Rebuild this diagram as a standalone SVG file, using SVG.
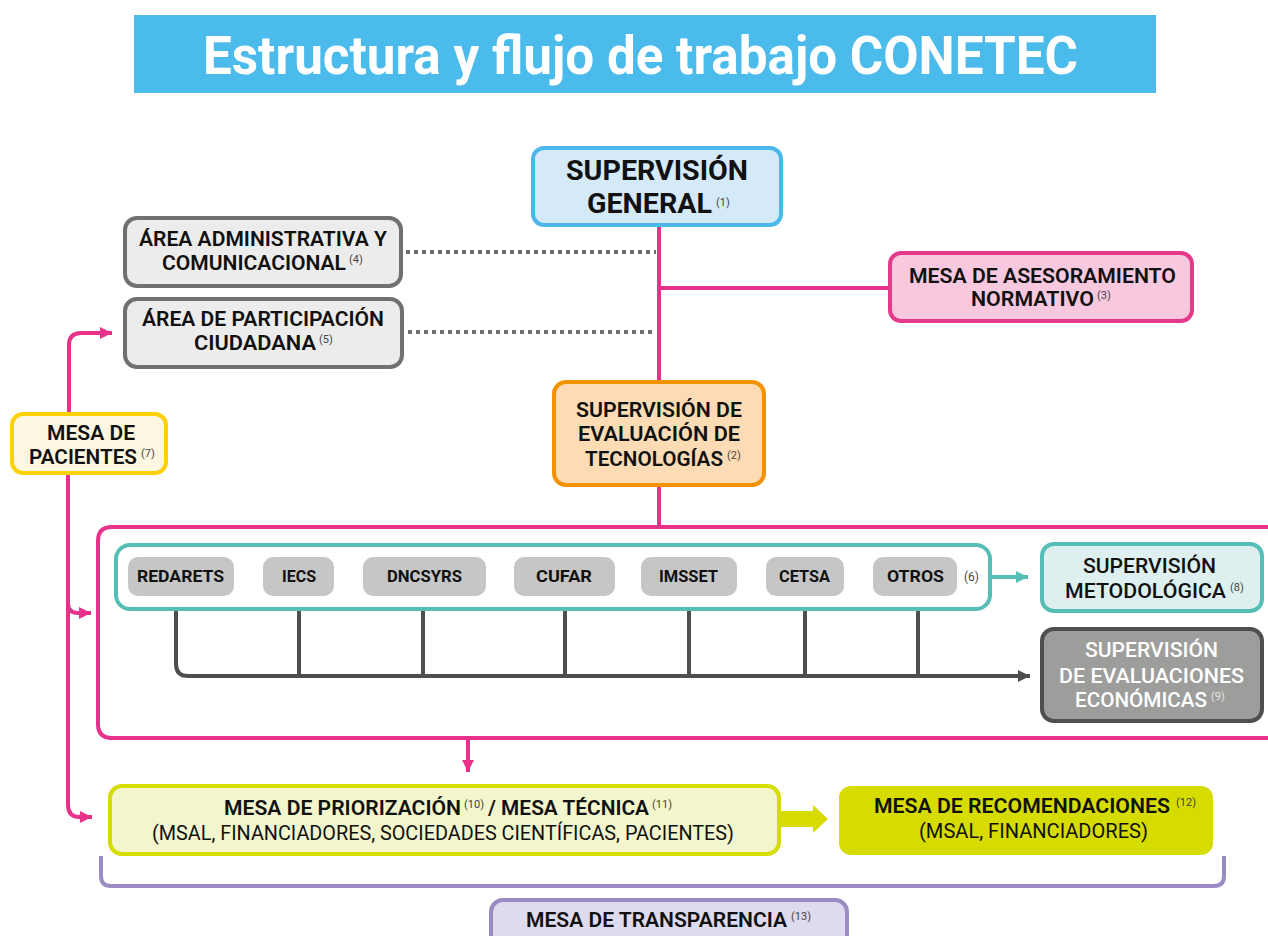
<svg xmlns="http://www.w3.org/2000/svg" width="1268" height="936" viewBox="0 0 1268 936">
<style>
text{font-family:Roboto,"Noto Sans","Liberation Sans",sans-serif;fill:#111}
.t{font-size:54px;font-weight:700;fill:#fff}
.h{font-size:27px;font-weight:700}
.m{font-size:21px;font-weight:600}
.n{font-size:21px;font-weight:500}
.p{font-size:16px;font-weight:700}
.rg{font-size:21px;font-weight:400}
.s{font-size:11px;font-weight:400;fill:#444}
.w{fill:#fff}
.ws{fill:#e6e6e6}
.pink{fill:none;stroke:#e8318a;stroke-width:4}
.dot{fill:none;stroke:#6d6d6d;stroke-width:4;stroke-dasharray:4 4}
.dk{fill:none;stroke:#4e4e4e;stroke-width:4}
</style>
<defs>
<marker id="ap" markerUnits="userSpaceOnUse" markerWidth="14" markerHeight="14" refX="12" refY="6" orient="auto"><path d="M0,0 L12,6 L0,12 z" fill="#e8318a"/></marker>
<marker id="at" markerUnits="userSpaceOnUse" markerWidth="14" markerHeight="14" refX="12" refY="6" orient="auto"><path d="M0,0 L12,6 L0,12 z" fill="#56bdb7"/></marker>
<marker id="ad" markerUnits="userSpaceOnUse" markerWidth="14" markerHeight="14" refX="12" refY="6" orient="auto"><path d="M0,0 L12,6 L0,12 z" fill="#4e4e4e"/></marker>
</defs>

<g id="title">
<rect x="134" y="15" width="1022" height="78" fill="#4bbbeb"/>
<text class="t" x="203" y="74" textLength="875" lengthAdjust="spacingAndGlyphs">Estructura y flujo de trabajo CONETEC</text>
</g>

<g id="connectors">
<path class="pink" d="M659 226 V382 M659 288 H890 M659 486 V527"/>
<path class="dot" d="M406 252 H656 M408 332 H656"/>
<path class="pink" d="M69 413 V345 Q69 333 81 333 H112" marker-end="url(#ap)"/>
<path class="pink" d="M68 474 V805 Q68 817 80 817 H92" marker-end="url(#ap)"/>
<path class="pink" d="M68 603 Q68 613 78 613 H91" marker-end="url(#ap)"/>
<path class="pink" d="M1272 527 H112 Q98 527 98 541 V724 Q98 738 112 738 H1272"/>
<path class="pink" d="M468 738 V772" marker-end="url(#ap)"/>
<path d="M991 577 H1028" fill="none" stroke="#56bdb7" stroke-width="4" marker-end="url(#at)"/>
<path class="dk" d="M176 596 V664 Q176 676 188 676 H1030" marker-end="url(#ad)"/>
<path class="dk" d="M299 596 V676 M423 596 V676 M565 596 V676 M689 596 V676 M805 596 V676 M918 596 V676"/>
<polygon points="780,811 813,811 813,805 828,819 813,833 813,827 780,827" fill="#d7dc00"/>
<path d="M101 856 V876 Q101 886 111 886 H1214 Q1224 886 1224 876 V856" fill="none" stroke="#9b8bc3" stroke-width="4"/>
</g>

<g id="supervision-general">
<rect x="533" y="148" width="248" height="77" rx="11" fill="#d5eaf8" stroke="#4bb8ea" stroke-width="4"/>
<text class="h" x="566" y="180" textLength="182" lengthAdjust="spacingAndGlyphs">SUPERVISIÓN</text>
<text class="h" x="587" y="213" textLength="125" lengthAdjust="spacingAndGlyphs">GENERAL</text>
<text class="s" x="716" y="206">(1)</text>
</g>

<g id="area-administrativa">
<rect x="125" y="218" width="276" height="68" rx="12" fill="#ececec" stroke="#707070" stroke-width="4"/>
<text class="m" x="139" y="246" textLength="248" lengthAdjust="spacingAndGlyphs">ÁREA ADMINISTRATIVA Y</text>
<text class="m" x="162" y="270" textLength="184" lengthAdjust="spacingAndGlyphs">COMUNICACIONAL</text>
<text class="s" x="349" y="263">(4)</text>
</g>

<g id="area-participacion">
<rect x="125" y="299" width="277" height="68" rx="12" fill="#ececec" stroke="#707070" stroke-width="4"/>
<text class="m" x="142" y="326" textLength="242" lengthAdjust="spacingAndGlyphs">ÁREA DE PARTICIPACIÓN</text>
<text class="m" x="194" y="350" textLength="122" lengthAdjust="spacingAndGlyphs">CIUDADANA</text>
<text class="s" x="319" y="343">(5)</text>
</g>

<g id="mesa-asesoramiento">
<rect x="890" y="253" width="302" height="68" rx="11" fill="#f7c8de" stroke="#e5398a" stroke-width="4"/>
<text class="m" x="909" y="283" textLength="267" lengthAdjust="spacingAndGlyphs">MESA DE ASESORAMIENTO</text>
<text class="m" x="971" y="306" textLength="123" lengthAdjust="spacingAndGlyphs">NORMATIVO</text>
<text class="s" x="1097" y="299">(3)</text>
</g>

<g id="supervision-evaluacion">
<rect x="554" y="382" width="210" height="103" rx="12" fill="#fddcb5" stroke="#f39200" stroke-width="4"/>
<text class="m" x="576" y="417" textLength="166" lengthAdjust="spacingAndGlyphs">SUPERVISIÓN DE</text>
<text class="m" x="578" y="441" textLength="162" lengthAdjust="spacingAndGlyphs">EVALUACIÓN DE</text>
<text class="m" x="585" y="466" textLength="138" lengthAdjust="spacingAndGlyphs">TECNOLOGÍAS</text>
<text class="s" x="727" y="459">(2)</text>
</g>

<g id="mesa-pacientes">
<rect x="12" y="414" width="154" height="59" rx="11" fill="#fdf6e1" stroke="#fdd104" stroke-width="4"/>
<text class="m" x="47" y="440" textLength="88" lengthAdjust="spacingAndGlyphs">MESA DE</text>
<text class="m" x="29" y="464" textLength="108" lengthAdjust="spacingAndGlyphs">PACIENTES</text>
<text class="s" x="141" y="457">(7)</text>
</g>

<g id="grupo-evaluadores">
<rect x="116" y="545" width="874" height="64" rx="14" fill="#fff" stroke="#56bdb7" stroke-width="4"/>
<text class="s" x="964" y="581" style="font-size:12px">(6)</text>
</g>
<g id="redarets"><rect x="128" y="557" width="106" height="39" rx="10" fill="#c6c6c6"/><text class="p" x="137" y="582" textLength="87" lengthAdjust="spacingAndGlyphs">REDARETS</text></g>
<g id="iecs"><rect x="263" y="557" width="71" height="39" rx="10" fill="#c6c6c6"/><text class="p" x="282" y="582" textLength="34" lengthAdjust="spacingAndGlyphs">IECS</text></g>
<g id="dncsyrs"><rect x="363" y="557" width="123" height="39" rx="10" fill="#c6c6c6"/><text class="p" x="387" y="582" textLength="75" lengthAdjust="spacingAndGlyphs">DNCSYRS</text></g>
<g id="cufar"><rect x="514" y="557" width="101" height="39" rx="10" fill="#c6c6c6"/><text class="p" x="536" y="582" textLength="56" lengthAdjust="spacingAndGlyphs">CUFAR</text></g>
<g id="imsset"><rect x="641" y="557" width="96" height="39" rx="10" fill="#c6c6c6"/><text class="p" x="659" y="582" textLength="59" lengthAdjust="spacingAndGlyphs">IMSSET</text></g>
<g id="cetsa"><rect x="766" y="557" width="78" height="39" rx="10" fill="#c6c6c6"/><text class="p" x="779" y="582" textLength="51" lengthAdjust="spacingAndGlyphs">CETSA</text></g>
<g id="otros"><rect x="873" y="557" width="84" height="39" rx="10" fill="#c6c6c6"/><text class="p" x="887" y="582" textLength="57" lengthAdjust="spacingAndGlyphs">OTROS</text></g>

<g id="supervision-metodologica">
<rect x="1042" y="544" width="220" height="67" rx="12" fill="#ddefef" stroke="#56bdb7" stroke-width="4"/>
<text class="n" x="1083" y="573" textLength="133" lengthAdjust="spacingAndGlyphs">SUPERVISIÓN</text>
<text class="n" x="1065" y="598" textLength="161" lengthAdjust="spacingAndGlyphs">METODOLÓGICA</text>
<text class="s" x="1230" y="591">(8)</text>
</g>

<g id="supervision-economicas">
<rect x="1042" y="629" width="220" height="92" rx="12" fill="#9d9d9c" stroke="#4f4f4f" stroke-width="4"/>
<text class="n w" x="1085" y="657" textLength="133" lengthAdjust="spacingAndGlyphs">SUPERVISIÓN</text>
<text class="n w" x="1059" y="683" textLength="185" lengthAdjust="spacingAndGlyphs">DE EVALUACIONES</text>
<text class="n w" x="1075" y="707" textLength="132" lengthAdjust="spacingAndGlyphs">ECONÓMICAS</text>
<text class="s ws" x="1211" y="700">(9)</text>
</g>

<g id="mesa-priorizacion">
<rect x="110" y="786" width="669" height="68" rx="12" fill="#f3f5cc" stroke="#d7dc00" stroke-width="4"/>
<text class="m" x="224" y="815" textLength="237" lengthAdjust="spacingAndGlyphs">MESA DE PRIORIZACIÓN</text>
<text class="s" x="464" y="808">(10)</text>
<text class="m" x="488" y="815" textLength="161" lengthAdjust="spacingAndGlyphs">/ MESA TÉCNICA</text>
<text class="s" x="652" y="808">(11)</text>
<text class="rg" x="152" y="840" textLength="582" lengthAdjust="spacingAndGlyphs">(MSAL, FINANCIADORES, SOCIEDADES CIENTÍFICAS, PACIENTES)</text>
</g>

<g id="mesa-recomendaciones">
<rect x="839" y="786" width="374" height="69" rx="12" fill="#d7dc00"/>
<text class="m" x="874" y="813" textLength="296" lengthAdjust="spacingAndGlyphs">MESA DE RECOMENDACIONES</text>
<text class="s" x="1176" y="806">(12)</text>
<text class="rg" x="919" y="838" textLength="229" lengthAdjust="spacingAndGlyphs">(MSAL, FINANCIADORES)</text>
</g>

<g id="mesa-transparencia">
<rect x="491" y="900" width="356" height="50" rx="12" fill="#dfdbef" stroke="#9b8bc3" stroke-width="4"/>
<text class="m" x="526" y="927" textLength="261" lengthAdjust="spacingAndGlyphs">MESA DE TRANSPARENCIA</text>
<text class="s" x="791" y="920">(13)</text>
</g>
</svg>
